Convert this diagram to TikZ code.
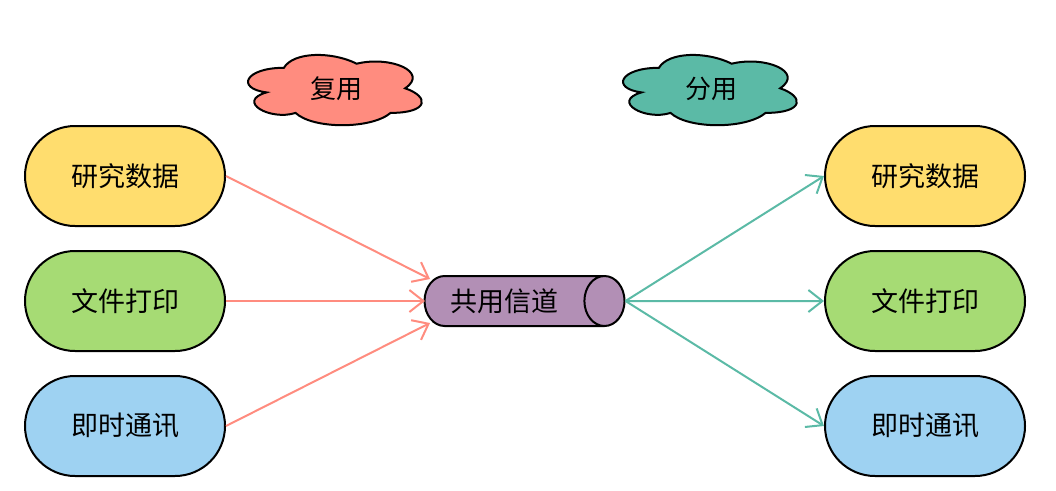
\documentclass[tikz,border=0pt]{standalone}
\usepackage{fontspec}
\setmainfont{Noto Sans CJK SC}
\usetikzlibrary{shapes.geometric,shapes.misc,arrows.meta}
\definecolor{cyellow}{HTML}{FFDD6E}
\definecolor{cgreen}{HTML}{A6DB74}
\definecolor{cblue}{HTML}{9ED2F2}
\definecolor{cpurple}{HTML}{B28FB5}
\definecolor{csalmon}{HTML}{FF8C7F}
\definecolor{cteal}{HTML}{5BBAA6}
\newcommand\mycloudpath{(0.25,0.25) .. controls (0.05,0.25) and (0,0.5) .. (0.16,0.55) .. controls (0,0.66) and (0.18,0.9) .. (0.31,0.8) .. controls (0.4,1) and (0.7,1) .. (0.8,0.8) .. controls (1,0.8) and (1,0.6) .. (0.875,0.5) .. controls (1,0.3) and (0.8,0.1) .. (0.625,0.2) .. controls (0.5,0.05) and (0.3,0.05) .. (0.25,0.25) -- cycle}
\begin{document}
\begin{tikzpicture}[x=1pt,y=-1pt,
  pill/.style={draw=black,line width=2pt,rounded rectangle,minimum width=200pt,minimum height=100pt,inner sep=0pt,font=\fontsize{27}{32}\selectfont},
  cloudline/.style={draw=black,line width=2pt},
  cloudtext/.style={inner sep=0pt,font=\fontsize{26}{31}\selectfont},
  mux/.style={draw=csalmon,line width=2pt,-{Straight Barb[length=14pt,width=22pt,line width=2pt]}},
  demux/.style={draw=cteal,line width=2pt,-{Straight Barb[length=14pt,width=22pt,line width=2pt]}}
]
\useasboundingbox (0,0) rectangle (1056,490);
\node[pill,fill=cyellow] (l1) at (125,176) {研究数据};
\node[pill,fill=cgreen] (l2) at (125,301) {文件打印};
\node[pill,fill=cblue] (l3) at (125,426) {即时通讯};
\node[pill,fill=cyellow] (r1) at (925,176) {研究数据};
\node[pill,fill=cgreen] (r2) at (925,301) {文件打印};
\node[pill,fill=cblue] (r3) at (925,426) {即时通讯};
\node[draw=black,line width=2pt,cylinder,fill=cpurple,minimum width=50pt,minimum height=200pt,shape aspect=1.6,inner sep=0pt,font=\fontsize{27}{32}\selectfont] (ch) at (514,301) {共用信道\hspace*{20pt}};
\begin{scope}[shift={(235.4,47.3)},x=194pt,y={(0pt,-82pt)}]
  \fill[csalmon] \mycloudpath;
  \draw[cloudline] \mycloudpath;
\end{scope}
\begin{scope}[shift={(610.4,47.3)},x=194pt,y={(0pt,-82pt)}]
  \fill[cteal] \mycloudpath;
  \draw[cloudline] \mycloudpath;
\end{scope}
\node[cloudtext] (c1) at (336,89) {复用};
\node[cloudtext] (c2) at (711,89) {分用};
\coordinate (i1) at (430,279);
\coordinate (i2) at (425,301);
\coordinate (i3) at (430,323);
\draw[mux] (l1.east) -- (i1);
\draw[mux] (l2.east) -- (i2);
\draw[mux] (l3.east) -- (i3);
\draw[demux] (ch.east) -- (r1.west);
\draw[demux] (ch.east) -- (r2.west);
\draw[demux] (ch.east) -- (r3.west);
\end{tikzpicture}
\end{document}
